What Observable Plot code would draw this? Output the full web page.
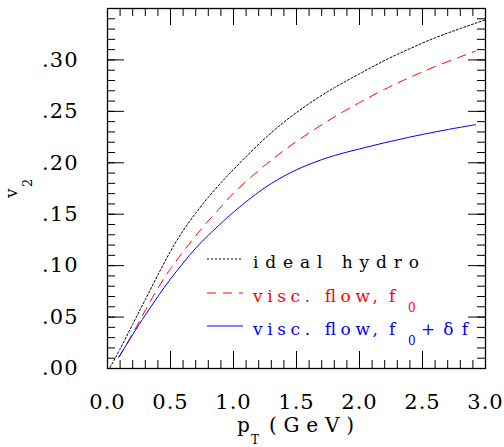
<!DOCTYPE html>
<html>
<head>
<meta charset="utf-8">
<script src="https://cdn.jsdelivr.net/npm/d3@7"></script>
<script src="https://cdn.jsdelivr.net/npm/@observablehq/plot@0.6"></script>
<style>
html, body { margin: 0; padding: 0; background: #fff; }
#chart { width: 504px; height: 447px; }
</style>
</head>
<body>
<div id="chart"></div>
<script>
// ---- data ----
const ptIdeal = [0.02, 0.1, 0.2, 0.3, 0.4, 0.5, 0.6, 0.7, 0.8, 0.9, 1.0, 1.2, 1.4, 1.6, 1.8, 2.0, 2.2, 2.4, 2.6, 2.8, 3.0];
const v2Ideal = [0.001, 0.019, 0.043, 0.067, 0.091, 0.114, 0.134, 0.151, 0.1665, 0.1805, 0.1935, 0.218, 0.2395, 0.2575, 0.273, 0.2865, 0.2995, 0.311, 0.3215, 0.3305, 0.339];

const ptVisc = [0.09, 0.2, 0.3, 0.4, 0.5, 0.6, 0.7, 0.8, 0.9, 1.0, 1.2, 1.4, 1.6, 1.8, 2.0, 2.2, 2.4, 2.6, 2.8, 2.92];
const v2ViscF0 = [0.011, 0.034, 0.0565, 0.078, 0.097, 0.1135, 0.129, 0.1435, 0.157, 0.1705, 0.1925, 0.212, 0.229, 0.2445, 0.2585, 0.2715, 0.283, 0.2935, 0.303, 0.3085];
const v2ViscDf = [0.011, 0.033, 0.052, 0.070, 0.087, 0.1025, 0.117, 0.1295, 0.141, 0.152, 0.1715, 0.187, 0.1985, 0.207, 0.2135, 0.2195, 0.225, 0.230, 0.2345, 0.237];

const xTicks = [0, 0.5, 1.0, 1.5, 2.0, 2.5, 3.0];
const xTickLabels = ["0.0", "0.5", "1.0", "1.5", "2.0", "2.5", "3.0"];
const yTicks = [0, 0.05, 0.10, 0.15, 0.20, 0.25, 0.30];
const yTickLabels = [".00", ".05", ".10", ".15", ".20", ".25", ".30"];

const seriesNames = ["ideal hydro", "visc. flow,", "visc. flow,"];
const seriesColors = ["#000000", "#ff0000", "#0000ff"];
const seriesDash = ["2,2", "9,7", null];

// ---- tables ----
const ideal = ptIdeal.map((x, i) => ({x, y: v2Ideal[i]}));
const f0 = ptVisc.map((x, i) => ({x, y: v2ViscF0[i]}));
const df = ptVisc.map((x, i) => ({x, y: v2ViscDf[i]}));
const xMinor = d3.range(0, 31).map(i => i / 10);
const yMinor = d3.range(0, 36).map(i => i / 100);

const W = 504, H = 447, mL = 107, mR = 19, mT = 8, mB = 79;
const iw = W - mL - mR, ih = H - mT - mB;
const major = 17, minor = 8;

const plot = Plot.plot({
  width: W, height: H,
  marginLeft: mL, marginRight: mR, marginTop: mT, marginBottom: mB,
  x: {domain: [0, 3]},
  y: {domain: [0, 0.35]},
  style: {fontFamily: "DejaVu Serif", fontSize: "21px", color: "#000", background: "#fff", letterSpacing: "1px"},
  marks: [
    Plot.axisX(xTicks, {anchor: "bottom", tickSize: 0, tickPadding: 26, fontSize: 21,
      tickFormat: d => xTickLabels[xTicks.indexOf(d)], label: null}),
    Plot.axisY(yTicks, {anchor: "left", tickSize: 0, tickPadding: 29, fontSize: 21,
      tickFormat: d => yTickLabels[yTicks.indexOf(d)], label: null}),
    // inward ticks on all four sides
    Plot.tickX(xMinor, {x: d => d, insetTop: ih - minor, stroke: "#000"}),
    Plot.tickX(xMinor, {x: d => d, insetBottom: ih - minor, stroke: "#000"}),
    Plot.tickX(xTicks, {x: d => d, insetTop: ih - major, stroke: "#000"}),
    Plot.tickX(xTicks, {x: d => d, insetBottom: ih - major, stroke: "#000"}),
    Plot.tickY(yMinor, {y: d => d, insetRight: iw - minor, stroke: "#000"}),
    Plot.tickY(yMinor, {y: d => d, insetLeft: iw - minor, stroke: "#000"}),
    Plot.tickY(yTicks, {y: d => d, insetRight: iw - major, stroke: "#000"}),
    Plot.tickY(yTicks, {y: d => d, insetLeft: iw - major, stroke: "#000"}),
    Plot.line(ideal, {x: "x", y: "y", stroke: seriesColors[0], strokeWidth: 1, strokeDasharray: seriesDash[0], curve: "natural"}),
    Plot.line(f0, {x: "x", y: "y", stroke: seriesColors[1], strokeWidth: 1, strokeDasharray: seriesDash[1], curve: "natural"}),
    Plot.line(df, {x: "x", y: "y", stroke: seriesColors[2], strokeWidth: 1, curve: "natural"}),
    Plot.frame({stroke: "#000", strokeWidth: 1.3})
  ]
});

document.getElementById("chart").appendChild(plot);

// ---- axis titles and legend (text with subscripts) ----
const svg = d3.select(plot);
const ff = "DejaVu Serif";

// x title: p_T (GeV)
const xt = svg.append("g").attr("font-family", ff).attr("fill", "#000")
  .attr("text-anchor", "start").style("letter-spacing", "0px");
xt.append("text").attr("x", 237).attr("y", 432).attr("font-size", 20).text("p");
xt.append("text").attr("x", 251).attr("y", 444).attr("font-size", 12).text("T");
xt.append("text").attr("x", 269).attr("y", 432).attr("font-size", 20)
  .attr("textLength", 85).attr("lengthAdjust", "spacing").text("(GeV)");

// y title: v_2
const yt = svg.append("g").attr("font-family", ff).attr("fill", "#000")
  .attr("text-anchor", "start").style("letter-spacing", "0px")
  .attr("transform", "translate(17,198) rotate(-90)");
yt.append("text").attr("x", 0).attr("y", 0).attr("font-size", 17).text("v");
yt.append("text").attr("x", 11).attr("y", 15).attr("font-size", 13).text("2");

// legend
const lg = svg.append("g").attr("font-family", ff).attr("text-anchor", "start").style("letter-spacing", "0px");
const rowY = [259, 293, 326];
rowY.forEach((y, i) => {
  lg.append("line").attr("x1", 207).attr("x2", 243).attr("y1", y).attr("y2", y)
    .attr("stroke", seriesColors[i]).attr("stroke-width", 1)
    .attr("stroke-dasharray", seriesDash[i]);
});
lg.append("text").attr("x", 253).attr("y", rowY[0] + 9).attr("font-size", 17)
  .attr("fill", seriesColors[0]).attr("textLength", 166).attr("lengthAdjust", "spacing").text(seriesNames[0]);
[1, 2].forEach(i => {
  const b = rowY[i] + 8.5;
  lg.append("text").attr("x", 253).attr("y", b).attr("font-size", 17)
    .attr("fill", seriesColors[i]).attr("textLength", 125).attr("lengthAdjust", "spacing").text(seriesNames[i]);
  lg.append("text").attr("x", 389).attr("y", b).attr("font-size", 17).attr("fill", seriesColors[i]).text("f");
  lg.append("text").attr("x", 408).attr("y", b + 10).attr("font-size", 12).attr("fill", seriesColors[i]).text("0");
});
lg.append("text").attr("x", 421).attr("y", rowY[2] + 8.5).attr("font-size", 17)
  .attr("fill", seriesColors[2]).attr("textLength", 47).attr("lengthAdjust", "spacing").text("+δf");
</script>
</body>
</html>
